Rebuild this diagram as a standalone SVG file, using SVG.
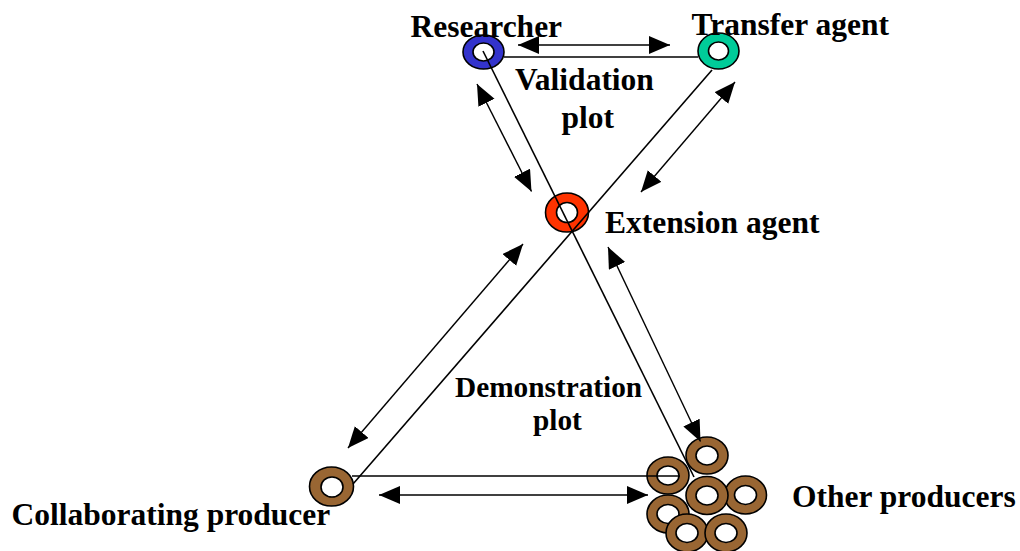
<svg xmlns="http://www.w3.org/2000/svg" width="1020" height="551" viewBox="0 0 1020 551">
  <style>
    .lbl { font-family: "Liberation Serif", "Times New Roman", serif; font-weight: bold; font-size: 31.5px; fill: #000; }
    .lbl-sm { font-family: "Liberation Serif", "Times New Roman", serif; font-weight: bold; font-size: 29.3px; fill: #000; }
    .ring { stroke: #000; stroke-width: 1.6; }
    .hole { fill: #fff; stroke: #000; stroke-width: 1.6; }
    .edge { stroke: #000; stroke-width: 1.6; fill: none; }
    .flow { stroke: #000; stroke-width: 1.4; fill: none; marker-start: url(#head); marker-end: url(#head); }
    .blue { fill: #3333CC; }
    .teal { fill: #00CC99; }
    .red { fill: #FF3300; }
    .brown { fill: #996633; }
  </style>
  <defs>
    <marker id="head" markerUnits="userSpaceOnUse" markerWidth="22" markerHeight="20" refX="21" refY="9" orient="auto-start-reverse">
      <path d="M0,0 L21,9 L0,18 Z" fill="#000"/>
    </marker>
  </defs>

  <rect width="1020" height="551" fill="#fff"/>

  <!-- actors -->
  <g id="researcher">
    <ellipse class="ring blue" cx="483.5" cy="52" rx="20.5" ry="17"/>
    <ellipse class="hole" cx="483.5" cy="52" rx="10.5" ry="9"/>
  </g>
  <g id="transfer-agent">
    <ellipse class="ring teal" cx="718.5" cy="51" rx="20.5" ry="18"/>
    <ellipse class="hole" cx="718.5" cy="51" rx="10" ry="9"/>
  </g>
  <g id="extension-agent">
    <ellipse class="ring red" cx="567" cy="212.5" rx="21.5" ry="19.5"/>
    <ellipse class="hole" cx="567" cy="212.5" rx="10.5" ry="10"/>
  </g>
  <g id="collaborating-producer">
    <ellipse class="ring brown" cx="331.5" cy="486.5" rx="22" ry="19.5"/>
    <ellipse class="hole" cx="332" cy="487" rx="11" ry="10"/>
  </g>
  <g id="other-producers">
    <ellipse class="ring brown" cx="668" cy="514" rx="21" ry="19"/>
    <ellipse class="hole" cx="668" cy="514" rx="11" ry="9.5"/>
    <ellipse class="ring brown" cx="687" cy="533" rx="21" ry="19"/>
    <ellipse class="hole" cx="687" cy="533" rx="11" ry="9.5"/>
    <ellipse class="ring brown" cx="726" cy="533" rx="21" ry="19"/>
    <ellipse class="hole" cx="726" cy="533" rx="11" ry="9.5"/>
    <ellipse class="ring brown" cx="707" cy="455.5" rx="21" ry="18.5"/>
    <ellipse class="hole" cx="707" cy="455.5" rx="11" ry="9.5"/>
    <ellipse class="ring brown" cx="668" cy="475.5" rx="21" ry="18.5"/>
    <ellipse class="hole" cx="668" cy="475.5" rx="11" ry="9.5"/>
    <ellipse class="ring brown" cx="745.5" cy="495" rx="21" ry="19"/>
    <ellipse class="hole" cx="745.5" cy="495" rx="11" ry="9.5"/>
    <ellipse class="ring brown" cx="707" cy="495.5" rx="21" ry="19"/>
    <ellipse class="hole" cx="707" cy="495.5" rx="11" ry="9.5"/>
  </g>

  <!-- triangle edges and two-way flows -->
  <g id="connectors">
    <line class="edge" x1="504" y1="57" x2="698" y2="57"/>
    <line class="edge" x1="483" y1="51" x2="694" y2="477"/>
    <line class="edge" x1="712" y1="70" x2="353" y2="484"/>
    <line class="edge" x1="352" y1="476" x2="680" y2="476"/>

    <line class="flow" x1="518" y1="45" x2="670" y2="45"/>
    <line class="flow" x1="477" y1="84" x2="531.5" y2="191.5"/>
    <line class="flow" x1="735" y1="82" x2="641" y2="192"/>
    <line class="flow" x1="523" y1="244" x2="348" y2="448"/>
    <line class="flow" x1="608" y1="247" x2="700.5" y2="441.5"/>
    <line class="flow" x1="379" y1="495" x2="648" y2="495"/>
  </g>

  <!-- labels -->
  <g id="labels">
    <text class="lbl" x="410.5" y="37">Researcher</text>
    <text class="lbl" x="691.5" y="35">Transfer agent</text>
    <text class="lbl" x="515" y="90">Validation</text>
    <text class="lbl" x="561.5" y="128">plot</text>
    <text class="lbl" x="605" y="233">Extension agent</text>
    <text class="lbl-sm" x="455" y="397">Demonstration</text>
    <text class="lbl-sm" x="533" y="430">plot</text>
    <text class="lbl" x="11.5" y="525">Collaborating producer</text>
    <text class="lbl" x="792" y="507">Other producers</text>
  </g>
</svg>
